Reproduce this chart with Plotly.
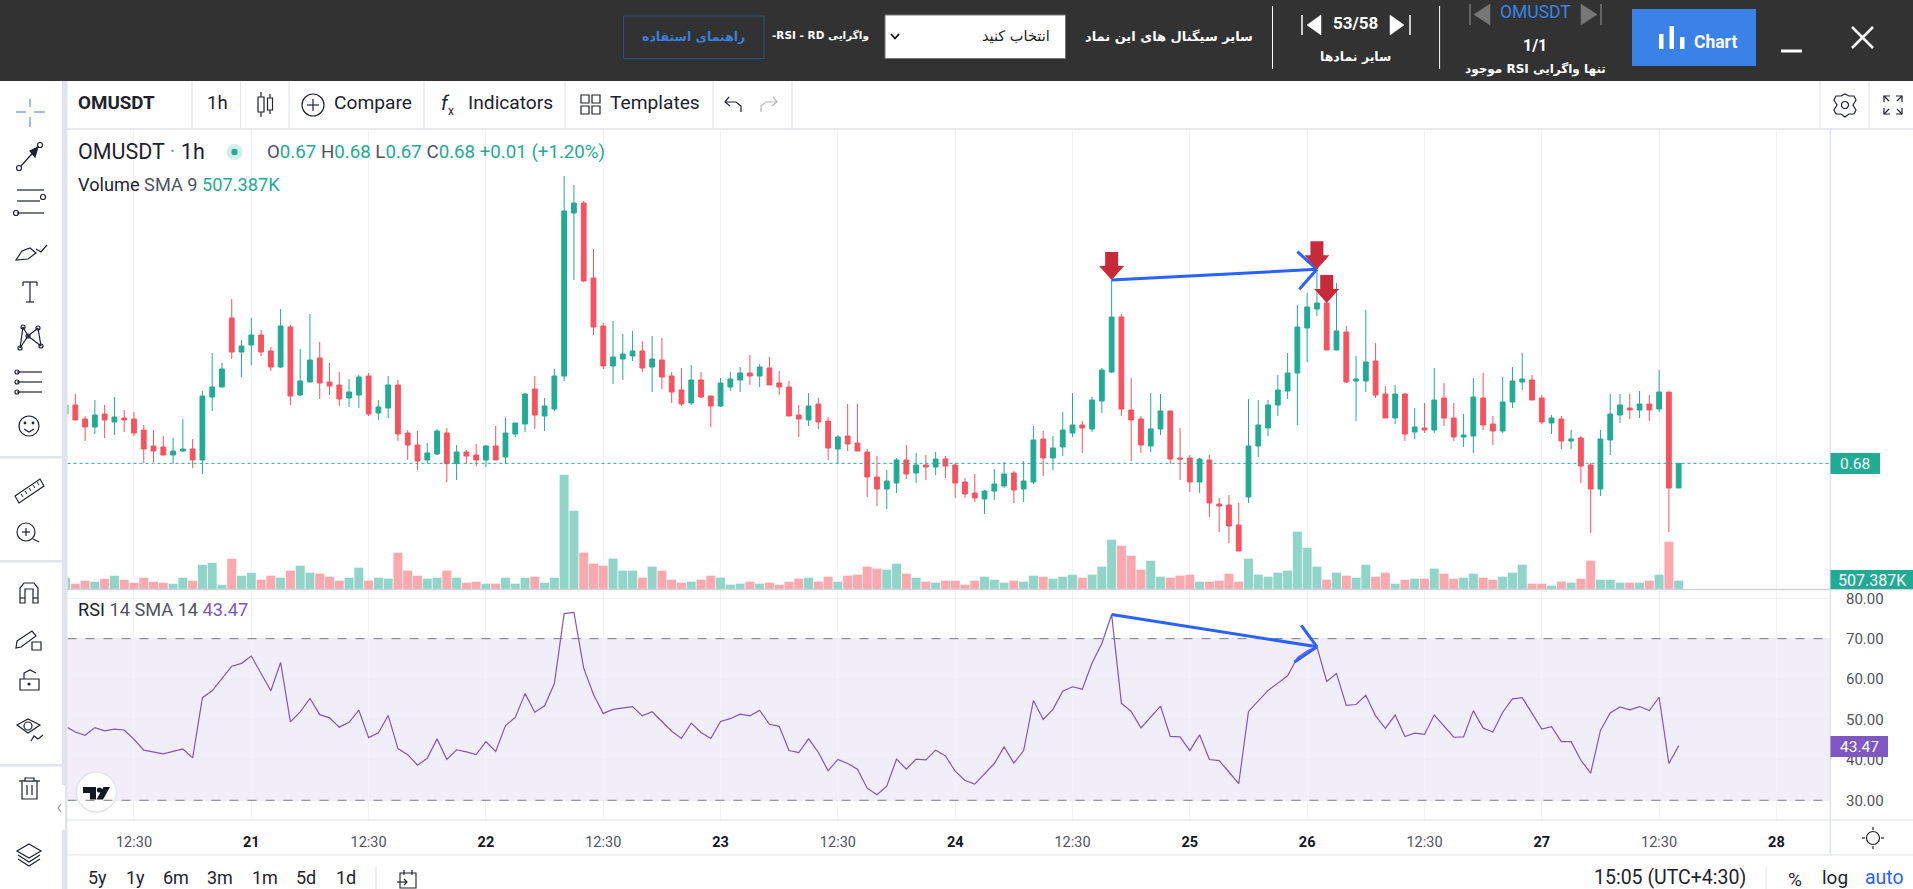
import plotly.graph_objects as go

W, H = 1913, 889

open_ = [.6948,.6975,.6933,.6909,.6948,.6924,.6936,.6933,.6900,.6852,.6849,.6825,.6837,.6843,.6810,.6999,.7029,.7236,.7134,.7155,
.7185,.7137,.7089,.7209,.7005,.7044,.7116,.7044,.7035,.6996,.7005,.7062,.6951,.6966,.7035,.6891,.6855,.6810,.6828,.6891,
.6799,.6834,.6825,.6810,.6852,.6819,.6888,.6918,.7023,.6942,.6963,.7062,.7551,.7581,.7356,.7212,.7092,.7113,.7122,.7137,
.7089,.7110,.7062,.7020,.6981,.7050,.7002,.6972,.7029,.7050,.7071,.7062,.7086,.7041,.7029,.6945,.6930,.6978,.6927,.6843,
.6882,.6861,.6834,.6759,.6723,.6741,.6810,.6771,.6795,.6789,.6813,.6795,.6744,.6711,.6693,.6717,.6732,.6771,.6723,.6744,
.6873,.6816,.6849,.6891,.6915,.6903,.6987,.7074,.7239,.6960,.6933,.6852,.6903,.6957,.6816,.6816,.6744,.6810,.6678,.6675,
.6615,.6699,.6852,.6906,.6975,.7017,.7071,.7206,.7263,.7281,.7140,.7194,.7047,.7047,.7107,.7008,.6936,.7008,.6894,.6906,
.6900,.6996,.6936,.6879,.6882,.6996,.6918,.6897,.6984,.7044,.7050,.6996,.6921,.6933,.6867,.6876,.6795,.6723,.6870,.6945,
.6966,.6960,.6978,.6963,.7014,.6726]

close = [.6975,.6930,.6909,.6945,.6930,.6939,.6930,.6891,.6843,.6837,.6825,.6837,.6843,.6810,.7002,.7029,.7083,.7134,.7152,.7185,
.7134,.7089,.7212,.7002,.7047,.7110,.7041,.7032,.6993,.7014,.7059,.6948,.6969,.7035,.6888,.6855,.6807,.6831,.6897,.6799,
.6834,.6822,.6810,.6852,.6810,.6891,.6921,.7008,.6945,.6972,.7062,.7557,.7581,.7347,.7209,.7092,.7119,.7128,.7137,.7086,
.7113,.7059,.7014,.6978,.7050,.6999,.6972,.7041,.7053,.7071,.7062,.7089,.7035,.7029,.6942,.6933,.6972,.6924,.6846,.6879,
.6858,.6837,.6759,.6723,.6747,.6810,.6768,.6795,.6789,.6813,.6792,.6741,.6708,.6696,.6717,.6738,.6768,.6720,.6747,.6870,
.6816,.6846,.6900,.6915,.6906,.6990,.7080,.7239,.6963,.6930,.6855,.6903,.6957,.6813,.6813,.6744,.6813,.6681,.6672,.6612,
.6537,.6852,.6915,.6975,.7020,.7071,.7209,.7269,.7281,.7140,.7197,.7044,.7053,.7104,.7005,.6936,.7008,.6888,.6909,.6900,
.6990,.6936,.6879,.6885,.6999,.6915,.6897,.6984,.7047,.7053,.6990,.6924,.6936,.6867,.6873,.6792,.6723,.6873,.6948,.6975,
.6960,.6978,.6960,.7014,.6726,.6800]

high = [.6990,.7008,.6942,.6990,.6975,.6999,.6960,.6954,.6915,.6900,.6882,.6876,.6933,.6873,.7017,.7131,.7101,.7293,.7170,.7236,
.7200,.7149,.7263,.7215,.7143,.7248,.7164,.7101,.7074,.7053,.7065,.7071,.6990,.7062,.7050,.6900,.6897,.6861,.6903,.6906,
.6855,.6840,.6858,.6855,.6912,.6936,.6921,.7011,.7062,.6996,.7083,.7662,.7635,.7587,.7443,.7221,.7227,.7188,.7197,.7167,
.7182,.7176,.7074,.7086,.7095,.7074,.7002,.7056,.7074,.7089,.7125,.7098,.7119,.7077,.7047,.6975,.7011,.6996,.6939,.6885,
.6978,.6978,.6843,.6822,.6780,.6816,.6855,.6831,.6825,.6834,.6822,.6801,.6756,.6768,.6720,.6783,.6804,.6777,.6807,.6912,
.6897,.6882,.6954,.7011,.6927,.6999,.7086,.7350,.7248,.7056,.6942,.7011,.7008,.6957,.6906,.6825,.6816,.6825,.6696,.6705,
.6681,.6993,.6990,.6990,.7065,.7131,.7275,.7311,.7382,.7330,.7341,.7212,.7122,.7260,.7161,.7032,.7035,.7011,.6966,.6981,
.7086,.7041,.6981,.6948,.7056,.7071,.6942,.7059,.7089,.7131,.7065,.7005,.6945,.6942,.6900,.6882,.6801,.6900,.7008,.7008,
.7008,.7017,.7005,.7080,.7014,.6800]

low = [.6930,.6930,.6867,.6888,.6876,.6885,.6894,.6882,.6800,.6803,.6825,.6799,.6834,.6786,.6768,.6957,.7029,.7113,.7059,.7095,
.7122,.7077,.7086,.6975,.7002,.7044,.6993,.7005,.6972,.6969,.6966,.6942,.6930,.6936,.6867,.6810,.6780,.6799,.6825,.6744,
.6750,.6799,.6792,.6789,.6810,.6799,.6879,.6894,.6903,.6897,.6957,.7047,.7350,.7344,.7185,.7083,.7038,.7050,.7107,.7074,
.7014,.7023,.6981,.6972,.6975,.6996,.6909,.6969,.7017,.7014,.7035,.7029,.7035,.7005,.6942,.6879,.6912,.6903,.6810,.6800,
.6837,.6837,.6699,.6672,.6663,.6711,.6753,.6741,.6750,.6765,.6756,.6696,.6696,.6684,.6648,.6690,.6726,.6681,.6684,.6738,
.6762,.6780,.6822,.6879,.6831,.6894,.6951,.7071,.6942,.6807,.6831,.6834,.6885,.6798,.6750,.6714,.6711,.6639,.6594,.6561,
.6537,.6681,.6819,.6882,.6942,.6993,.6915,.7104,.7242,.7140,.7140,.7041,.6927,.7014,.6996,.6936,.6918,.6867,.6873,.6891,
.6891,.6912,.6867,.6849,.6831,.6900,.6855,.6891,.6966,.7020,.6990,.6918,.6888,.6843,.6843,.6741,.6591,.6702,.6825,.6921,
.6933,.6936,.6927,.6954,.6594,.6726]

volume_k = [740,380,560,500,680,860,620,440,740,500,440,380,740,560,1520,1640,320,1880,860,1040,
620,860,740,1160,1460,1040,980,800,560,740,1340,560,740,680,2240,1160,860,680,740,1160,
740,440,500,380,380,740,380,740,800,440,740,6920,4760,2240,1580,1460,1880,1160,1160,740,
1400,1160,620,440,500,620,860,740,320,380,500,380,440,320,500,680,740,500,800,500,
860,920,1400,1280,1220,1580,980,740,500,440,560,560,320,560,800,620,440,560,500,860,
800,680,800,920,740,920,1400,3020,2660,2060,1220,1760,800,740,860,920,500,500,560,980,
500,1880,920,800,1040,1160,3500,2540,1400,620,1040,860,740,1520,800,1040,380,620,680,680,
1280,980,680,740,980,740,620,800,1040,1520,380,380,260,500,440,680,1760,620,620,440,
440,440,560,920,2900,560]

rsi = [48.3,46.9,46.1,48.0,47.2,47.6,47.4,45.1,42.4,42.0,41.5,42.1,42.7,40.5,55.4,57.1,60.3,63.2,63.9,65.7,
61.4,57.1,64.1,49.4,51.9,55.2,51.2,50.4,48.1,49.3,52.3,45.5,46.7,51.0,42.8,41.3,38.7,40.4,45.2,40.1,
42.5,42.0,41.3,44.5,42.1,48.5,50.5,56.4,51.8,53.4,58.9,76.2,76.5,62.7,56.2,51.5,52.5,52.8,53.2,50.9,
51.9,49.5,47.1,45.3,49.1,46.8,45.3,49.5,50.2,51.3,50.9,52.3,48.8,48.3,42.3,41.8,45.2,41.9,37.3,40.1,
39.1,37.7,33.0,31.4,33.5,40.2,37.7,40.2,40.0,42.4,41.0,37.2,34.9,34.0,36.6,39.1,43.2,39.2,42.3,54.7,
50.0,52.5,57.0,58.1,57.5,64.0,68.8,76.0,54.0,52.0,47.9,50.5,53.3,45.8,45.7,42.3,46.2,40.1,39.8,37.0,
34.1,52.0,54.7,57.2,59.0,60.8,65.3,67.0,68.0,59.4,61.4,53.5,53.7,56.0,50.9,47.8,51.1,45.8,46.6,46.3,
51.1,48.4,45.6,45.7,52.2,47.9,46.9,51.8,55.1,55.4,51.5,47.6,48.2,44.5,44.5,39.9,36.7,47.3,51.6,53.1,
52.4,53.2,52.2,55.5,39.1,43.47]

tick_bars = [7,19,31,43,55,67,79,91,103,115,127,139,151,163,175]
tick_labels = ["12:30","21","12:30","22","12:30","23","12:30","24","12:30","25","26","12:30","27","12:30","28"]
rsi_ticks = [30,40,50,60,70,80]
rsi_tick_text = ["30.00","40.00","50.00","60.00","70.00","80.00"]
periods = ["5y","1y","6m","3m","1m","5d","1d"]

n = len(close)
assert all(len(a) == n for a in (open_, high, low, volume_k, rsi))

UP, DOWN, PURPLE, BLUE, RED, DARK, GRAY, SEP = "#22AB94", "#F7525F", "#7E57C2", "#2962FF", "#C92A3A", "#131722", "#50535E", "#E0E3EB"
INK = "#1E222D"
tick_text = [t if ":" in t else f"<span style='color:{DARK}'><b>{t}</b></span>" for t in tick_labels]
bars = [i for i in range(n)]
vol_colors = ["#91D5C9" if c >= o else "#FBA8AF" for o, c in zip(open_, close)]

fig = go.Figure()
fig.add_trace(go.Bar(x=bars, y=volume_k, marker=dict(color=vol_colors, line_width=0), xaxis="x", yaxis="y2", hoverinfo="skip"))
fig.add_trace(go.Candlestick(x=bars, open=open_, high=high, low=low, close=close, xaxis="x", yaxis="y", whiskerwidth=0,
    increasing=dict(line=dict(color=UP, width=1), fillcolor=UP),
    decreasing=dict(line=dict(color=DOWN, width=1), fillcolor=DOWN), hoverinfo="skip"))
fig.add_trace(go.Scatter(x=bars, y=rsi, mode="lines", line=dict(color=PURPLE, width=1.2), xaxis="x2", yaxis="y3", hoverinfo="skip"))

shapes, notes = [], []
fx = lambda x: x / W
fy = lambda y: 1 - y / H

def text(x, y, s, size=15, color=DARK, anchor="left", font="Roboto"):
    notes.append(dict(xref="paper", yref="paper", x=fx(x), y=fy(y), text=s, showarrow=False, xanchor=anchor, yanchor="middle",
                      font=dict(family=font, size=size, color=color), borderpad=0, borderwidth=0))

def rtl(s):
    return "\u202B" + s + "\u202C"

def rect(x0, y0, x1, y1, fill, line=None, w=1):
    shapes.append(dict(type="rect", xref="paper", yref="paper", x0=fx(x0), x1=fx(x1), y0=fy(y0), y1=fy(y1), fillcolor=fill,
                       line=dict(color=line or fill, width=w if line else 0)))

def line(x0, y0, x1, y1, color=INK, w=1.2):
    shapes.append(dict(type="line", xref="paper", yref="paper", x0=fx(x0), x1=fx(x1), y0=fy(y0), y1=fy(y1), line=dict(color=color, width=w)))

def circle(cx, cy, r, fill="rgba(0,0,0,0)", color=INK, w=1.2):
    shapes.append(dict(type="circle", xref="paper", yref="paper", x0=fx(cx - r), x1=fx(cx + r), y0=fy(cy - r), y1=fy(cy + r), fillcolor=fill, line=dict(color=color, width=w)))

def poly(pts, fill="rgba(0,0,0,0)", color=INK, w=1.2, close=True):
    p = "M " + " L ".join(f"{fx(a):.5f} {fy(b):.5f}" for a, b in pts) + (" Z" if close else "")
    shapes.append(dict(type="path", xref="paper", yref="paper", path=p, fillcolor=fill, line=dict(color=color, width=w)))

# frame areas
rect(0, 0, W, 81, "#323232")
rect(62, 81, 67.5, H, SEP)
for y0 in (456, 560, 764):
    rect(0, y0, 62, y0 + 2.5, SEP)
line(67, 129, W, 129, SEP, 1.5)
line(1830.3, 129, 1830.3, 855, SEP, 1.5)
line(67, 589.5, 1913, 589.5, "#D1D4DC", 1.4)
line(67, 820, 1913, 820, SEP, 1.2)
line(67, 855, 1913, 855, SEP, 1.2)

# header bar
shapes.append(dict(type="rect", xref="paper", yref="paper", x0=fx(623.5), x1=fx(764), y0=fy(16), y1=fy(58.5), fillcolor="rgba(0,0,0,0)", line=dict(color="#2B4E8A", width=1)))
FA = "DejaVu Sans"
text(693, 36, rtl("<b>راهنمای استفاده</b>"), 12.5, "#3B7EDB", "center", FA)
text(820, 35, rtl("<b>واگرایی RSI - RD-</b>"), 10.5, "#FFFFFF", "center", FA)
rect(885, 15, 1065.5, 58.5, "#FFFFFF", "#777777", 1)
poly([(891, 34), (895, 38.5), (899, 34)], color="#111111", w=1.8, close=False)
text(1016, 36, rtl("انتخاب کنید"), 14.5, "#222222", "center", FA)
text(1169, 36, rtl("<b>سایر سیگنال های این نماد</b>"), 13, "#FFFFFF", "center", FA)
line(1272.5, 6, 1272.5, 69, "#FFFFFF", 1)
line(1439.6, 6, 1439.6, 69, "#FFFFFF", 1)
line(1302, 15, 1302, 35, "#FFFFFF", 1.5)
poly([(1321, 15), (1321, 35), (1307, 25)], "#FFFFFF", "#FFFFFF", 0.5)
text(1355, 23, "<b>53/58</b>", 17, "#FFFFFF", "center")
poly([(1390, 15), (1390, 35), (1404, 25)], "#FFFFFF", "#FFFFFF", 0.5)
line(1410, 15, 1410, 35, "#FFFFFF", 1.5)
text(1355, 57, rtl("<b>سایر نمادها</b>"), 12.5, "#FFFFFF", "center", FA)
line(1470, 4, 1470, 25, "#777777", 1.5)
poly([(1490, 4), (1490, 25), (1474, 14.5)], "#777777", "#777777", 0.5)
text(1535, 12, "OMUSDT", 17.5, "#3B82E8", "center")
poly([(1581, 4), (1581, 25), (1597, 14.5)], "#777777", "#777777", 0.5)
line(1601, 4, 1601, 25, "#777777", 1.5)
text(1535, 45, "<b>1/1</b>", 16, "#FFFFFF", "center")
text(1535, 69, rtl("<b>تنها واگرایی RSI موجود</b>"), 12, "#FFFFFF", "center", FA)
rect(1632, 9, 1756, 66, "#3A82E8")
rect(1659, 34, 1663.5, 49, "#FFFFFF")
rect(1669.5, 26, 1674, 49, "#FFFFFF")
rect(1680, 37, 1684.5, 49, "#FFFFFF")
text(1715, 42, "<b>Chart</b>", 17.5, "#FFFFFF", "center")
line(1781, 51, 1802, 51, "#FFFFFF", 3)
line(1852, 27, 1873, 48, "#FFFFFF", 2.5)
line(1873, 27, 1852, 48, "#FFFFFF", 2.5)

# top toolbar
for x in (192, 240.6, 289, 424, 565, 713, 792, 1820, 1869):
    line(x, 81, x, 129, SEP, 1)
text(78, 103, "<b>OMUSDT</b>", 18.8, INK)
text(217, 103, "1h", 18.5, INK, "center")
line(261, 92, 261, 117)
rect(258, 97, 264, 112, "#FFFFFF", INK, 1.2)
line(270, 94, 270, 114)
rect(267.5, 98, 272.5, 110, "#FFFFFF", INK, 1.2)
circle(313, 105, 11)
line(307, 105, 319, 105)
line(313, 99, 313, 111)
text(334, 103, "Compare", 19.2, INK)
text(441, 103, "<i>f</i>", 20, INK)
text(448, 111, "x", 12, INK)
text(468, 103, "Indicators", 19.2, INK)
for cx, cy in ((585, 99), (596, 99), (585, 110), (596, 110)):
    shapes.append(dict(type="rect", xref="paper", yref="paper", x0=fx(cx - 4), x1=fx(cx + 4), y0=fy(cy - 4), y1=fy(cy + 4), fillcolor="rgba(0,0,0,0)", line=dict(color=INK, width=1.2)))
text(610, 103, "Templates", 19.2, INK)
poly([(729, 97), (725, 102), (730, 106)], close=False)
poly([(725, 102), (736, 102), (741, 106), (741, 112)], close=False)
poly([(773, 97), (777, 102), (772, 106)], color="#B2B5BE", close=False)
poly([(777, 102), (766, 102), (761, 106), (761, 112)], color="#B2B5BE", close=False)
# gear
circle(1845, 105, 3.5)
poly([(1845, 94), (1849, 96), (1854, 96), (1856, 100), (1853, 105), (1856, 110), (1854, 114), (1849, 114), (1845, 117), (1841, 114), (1836, 114), (1834, 110), (1837, 105), (1834, 100), (1836, 96), (1841, 96)])
for sx, sy in ((-1, -1), (1, -1), (-1, 1), (1, 1)):
    poly([(1893 + sx * 3, 105 + sy * 9), (1893 + sx * 9, 105 + sy * 9), (1893 + sx * 9, 105 + sy * 3)], close=False)
    line(1893 + sx * 9, 105 + sy * 9, 1893 + sx * 4, 105 + sy * 4)

# left tools
blue_soft = "#7DA3F5"
line(30, 99, 30, 107, blue_soft, 1.5); line(30, 117, 30, 127, blue_soft, 1.5)
line(16, 112, 26, 112, blue_soft, 1.5); line(34, 112, 45, 112, blue_soft, 1.5)
line(21, 166, 38, 147); circle(19, 168, 2.5); circle(40, 145, 2.5)
poly([(38, 147), (30, 151), (35, 157)], INK)
for y, x1 in ((190, 44), (201, 40), (213, 44)):
    line(17, y, x1, y)
circle(43, 197, 2.5); circle(16, 213, 2.5)
poly([(16, 260), (22, 251), (30, 248), (36, 253), (28, 259)])
poly([(36, 249), (41, 252), (47, 245)], close=False)
line(23, 282, 37, 282); line(30, 282, 30, 302); line(26, 302, 34, 302); line(23, 282, 23, 286); line(37, 282, 37, 286)
for a, b in (((20, 348), (28, 336)), ((28, 336), (41, 346)), ((23, 327), (28, 336)), ((28, 336), (38, 328)), ((23, 327), (20, 348)), ((38, 328), (41, 346))):
    line(a[0], a[1], b[0], b[1])
for c in ((20, 348), (23, 327), (38, 328), (41, 346), (28, 336)):
    circle(c[0], c[1], 2)
for y in (372, 382, 392):
    line(17, y, 42, y); circle(17, y, 2)
circle(29, 426, 10); circle(25, 423, 0.8, INK); circle(33, 423, 0.8, INK)
poly([(24, 429), (29, 432), (34, 429)], close=False)
poly([(15, 496), (40, 479), (44, 486), (19, 503)])
for k in range(5):
    line(21 + k * 4, 494 - k * 3, 23 + k * 4, 497 - k * 3, INK, 1)
circle(26, 532, 9); line(22, 532, 30, 532); line(26, 528, 26, 536); line(33, 539, 39, 542)
poly([(20, 603), (20, 588), (24, 583), (34, 583), (38, 588), (38, 603), (33, 603), (33, 589), (25, 589), (25, 603)])
line(20, 598, 25, 598); line(33, 598, 38, 598)
poly([(17, 641), (32, 631), (36, 636), (21, 647), (16, 648)])
rect(32, 642, 41, 650, "#FFFFFF", INK, 1.2)
rect(20, 679, 39, 690, "#FFFFFF", INK, 1.2)
poly([(24, 679), (24, 673), (30, 670), (36, 673)], close=False)
circle(29, 684, 1, INK)
poly([(17, 725), (28, 719), (40, 725), (28, 733)]); circle(28, 726, 4)
poly([(31, 741), (34, 736), (38, 739), (43, 735)], close=False)
line(19, 781, 40, 781); rect(22, 781, 37, 799, "#FFFFFF", INK, 1.2); line(27, 785, 27, 795); line(32, 785, 32, 795); rect(25, 778, 34, 781, "#FFFFFF", INK, 1.2)
poly([(29, 844), (41, 851), (29, 858), (17, 851)])
poly([(18, 855), (29, 862), (40, 855)], close=False)
poly([(18, 859), (29, 866), (40, 859)], close=False)
# collapse handle
rect(55, 785, 65, 830, "#FFFFFF")
poly([(61, 804), (58, 808), (61, 812)], color="#9598A1", close=False)

# pane legends
text(78, 152, "OMUSDT <span style='color:#9598A1'>·</span> 1h", 21.5, INK)
circle(234.5, 152, 8, "#D3EEE9", "#D3EEE9", 0)
circle(234.5, 152, 3.2, UP, UP, 0)
g = lambda s: f"<span style='color:{GRAY}'>{s}</span>"
text(267, 152, f"{g('O')}0.67 {g('H')}0.68 {g('L')}0.67 {g('C')}0.68 +0.01 (+1.20%)", 18.7, UP)
text(78, 184, f"<span style='color:{INK}'>Volume</span> {g('SMA 9')} <span style='color:{UP}'>507.387K</span>", 18.2, UP)
text(78, 609, f"<span style='color:{INK}'>RSI</span> {g('14 SMA 14')} <span style='color:{PURPLE}'>43.47</span>", 18.2, PURPLE)

# value boxes
rect(1830.5, 453, 1880, 474, UP); text(1855, 463.5, "0.68", 15.5, "#FFFFFF", "center")
rect(1830.5, 570, 1913, 589, UP); text(1872, 580, "507.387K", 16, "#FFFFFF", "center")
rect(1830.5, 736, 1888, 757, PURPLE); text(1859, 746.5, "43.47", 15.5, "#FFFFFF", "center")

# TV badge
circle(96.4, 792, 20, "#FFFFFF", "#E4E5EA", 1.5)
poly([(83, 787), (96, 787), (96, 799.5), (90, 799.5), (90, 793), (83, 793)], "#131722", "#131722", 0)
circle(99.5, 790, 2.6, "#131722", "#131722", 0)
poly([(103.5, 787), (110, 787), (103, 799.5), (96.5, 799.5)], "#131722", "#131722", 0)

# bottom bar
for s, x in zip(periods, (97.6, 135, 175.5, 220, 265, 306, 345.5)):
    text(x, 877, s, 18, INK, "center")
line(376, 866, 376, 889, SEP, 1)
rect(400, 873, 416, 888, "#FFFFFF", INK, 1.1); line(404, 870, 404, 875); line(412, 870, 412, 875)
line(397, 882, 407, 882); poly([(404, 879), (407, 882), (404, 885)], close=False)
text(1670, 877, "15:05 (UTC+4:30)", 19.5, INK, "center")
line(1766, 866, 1766, 889, SEP, 1)
text(1795, 879, "%", 19, INK, "center")
text(1835, 877, "log", 19, INK, "center")
text(1884, 877, "auto", 19.5, BLUE, "center")
circle(1873, 838, 6.5)
for a, b, c, d in ((1873, 827, 1873, 830), (1873, 846, 1873, 849), (1862, 838, 1865, 838), (1881, 838, 1884, 838)):
    line(a, b, c, d)

# chart-anchored overlays
def data_line(xref, yref, x0, y0, x1, y1, color, w, dash="solid", layer="above"):
    shapes.append(dict(type="line", xref=xref, yref=yref, x0=x0, x1=x1, y0=y0, y1=y1, layer=layer, line=dict(color=color, width=w, dash=dash)))

shapes.append(dict(type="rect", xref="x2", yref="y3", x0=0.2, x1=180.48, y0=30, y1=70, fillcolor="rgba(126,87,194,0.1)", line_width=0, layer="below"))
data_line("x2", "y3", 0.2, 70, 180.48, 70, "#787B86", 1, "dash")
data_line("x2", "y3", 0.2, 30, 180.48, 30, "#787B86", 1, "dash")
data_line("x", "y", 0.2, close[-1], 180.48, close[-1], UP, 1, "dot")

ARROW = "M 0 0 L -12.5 14 L -6.5 14 L -6.5 28 L 6.5 28 L 6.5 14 L 12.5 14 Z"
data_line("x", "y", 107, high[107], 128, high[128], BLUE, 3)
data_line("x", "y", 128, high[128], 126, .7435, BLUE, 3)
data_line("x", "y", 128, high[128], 126.2, .7322, BLUE, 3)
data_line("x2", "y3", 107, rsi[107], 128, rsi[128], BLUE, 3)
data_line("x2", "y3", 128, rsi[128], 126.4, 73.3, BLUE, 3)
data_line("x2", "y3", 128, rsi[128], 125.7, 64.2, BLUE, 3)
for i, price in ((107, high[107]), (128, high[128]), (129, open_[129])):
    shapes.append(dict(type="path", xref="x", yref="y", xsizemode="pixel", ysizemode="pixel", xanchor=i, yanchor=price, path=ARROW, fillcolor=RED, line_width=0))

xcommon = dict(range=[0.2, 180.48], tickmode="array", tickvals=tick_bars, showgrid=True, gridcolor="#F0F3FA", gridwidth=1, zeroline=False, showline=False, fixedrange=True)
fig.update_layout(
    width=W, height=H, margin=dict(l=0, r=0, t=0, b=0), paper_bgcolor="#FFFFFF", plot_bgcolor="#FFFFFF", showlegend=False, bargap=0.08,
    font=dict(family="Roboto"),
    xaxis=dict(domain=[67.5 / W, 1830 / W], anchor="y", showticklabels=False, ticks="", rangeslider=dict(visible=False), **xcommon),
    xaxis2=dict(domain=[67.5 / W, 1830 / W], anchor="y3", ticktext=tick_text, ticks="outside", ticklen=9, tickcolor="rgba(0,0,0,0)", tickfont=dict(family="Roboto", size=14.5, color=GRAY), **xcommon),
    yaxis=dict(domain=[1 - 590 / H, 1 - 130 / H], range=[.642, .78], showticklabels=False, showgrid=False, zeroline=False, fixedrange=True),
    yaxis2=dict(domain=[1 - 590 / H, 1 - 130 / H], range=[0, 27600], overlaying="y", showticklabels=False, showgrid=False, zeroline=False, fixedrange=True),
    yaxis3=dict(domain=[1 - 820 / H, 1 - 590 / H], range=[25.12, 82.05], side="right", anchor="x2", tickmode="array", tickvals=rsi_ticks, ticktext=rsi_tick_text,
                ticks="outside", ticklen=12, tickcolor="rgba(0,0,0,0)", tickfont=dict(family="Roboto", size=15, color=GRAY), showgrid=True, gridcolor="#EDEDF3", zeroline=False, fixedrange=True),
    shapes=shapes, annotations=notes,
)
fig.write_html("out.html", config=dict(displayModeBar=False, staticPlot=True),
               post_script="document.body.style.margin='0';document.body.style.overflow='hidden';")
